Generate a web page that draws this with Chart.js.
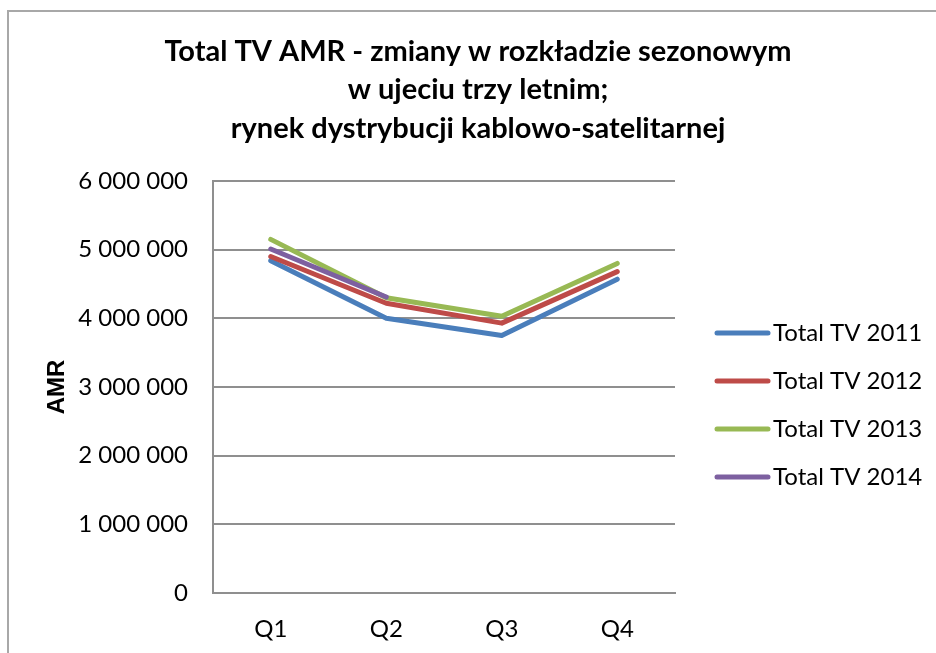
<!DOCTYPE html>
<html>
<head>
<meta charset="utf-8">
<script src="https://cdn.jsdelivr.net/npm/chart.js@4/dist/chart.umd.min.js"></script>
<style>
  html, body { margin: 0; padding: 0; background: #fff; }
  #wrap { width: 936px; height: 653px; }
</style>
</head>
<body>
<div id="wrap"><canvas id="chart" width="936" height="653"></canvas></div>
<script>
const quarters = ['Q1', 'Q2', 'Q3', 'Q4']
const seriesNames = ['Total TV 2011', 'Total TV 2012', 'Total TV 2013', 'Total TV 2014']
const tv2011 = [4840000, 4000000, 3750000, 4570000]
const tv2012 = [4900000, 4220000, 3930000, 4680000]
const tv2013 = [5150000, 4300000, 4030000, 4800000]
const tv2014 = [5010000, 4310000, null, null]
const titleLines = [
  'Total TV AMR - zmiany w rozkładzie sezonowym',
  'w ujeciu trzy letnim;',
  'rynek dystrybucji kablowo-satelitarnej'
]
const axisTitle = 'AMR'

const colors = ['#4A7EBB', '#BE4B48', '#98B954', '#7D60A0']
const fontFamily = 'Lato, "Open Sans", sans-serif'
const gridColor = '#8f8f8f'

const fmt = v => String(v).replace(/\B(?=(\d{3})+(?!\d))/g, ' ')

const frameAndText = {
  id: 'frameAndText',
  beforeDraw: (chart) => {
    const ctx = chart.ctx
    ctx.save()
    ctx.fillStyle = '#fff'
    ctx.fillRect(0, 0, chart.width, chart.height)
    ctx.strokeStyle = '#a8a8a8'
    ctx.lineWidth = 2
    ctx.beginPath()
    ctx.moveTo(8, chart.height)
    ctx.lineTo(8, 11)
    ctx.lineTo(chart.width, 11)
    ctx.stroke()
    ctx.restore()
  },
  afterDraw: (chart) => {
    const ctx = chart.ctx
    ctx.save()
    // title
    ctx.fillStyle = '#000'
    ctx.font = 'bold 29px ' + fontFamily
    ctx.textAlign = 'center'
    ctx.textBaseline = 'middle'
    const ys = [52, 90, 129]
    titleLines.forEach((t, i) => ctx.fillText(t, 478, ys[i]))

    // legend
    ctx.font = '24px ' + fontFamily
    ctx.textAlign = 'left'
    chart.data.datasets.forEach((ds, i) => {
      const y = 333 + i * 48
      ctx.strokeStyle = ds.borderColor
      ctx.lineWidth = 5
      ctx.lineCap = 'round'
      ctx.beginPath()
      ctx.moveTo(717, y)
      ctx.lineTo(768, y)
      ctx.stroke()
      ctx.fillStyle = '#000'
      ctx.fillText(ds.label, 773, y)
    })
    ctx.restore()
  }
}

const makeSet = (data, i) => ({
  label: seriesNames[i],
  data: data,
  borderColor: colors[i],
  backgroundColor: colors[i],
  borderWidth: 5,
  borderCapStyle: 'round',
  borderJoinStyle: 'round',
  pointRadius: 0,
  pointHoverRadius: 0,
  tension: 0,
  spanGaps: false,
  order: 3 - i
})

new Chart(document.getElementById('chart'), {
  type: 'line',
  data: {
    labels: quarters,
    datasets: [tv2011, tv2012, tv2013, tv2014].map(makeSet)
  },
  options: {
    responsive: false,
    animation: false,
    layout: {
      padding: { top: 181, right: 261, left: 0, bottom: 0 }
    },
    scales: {
      x: {
        offset: true,
        grid: { display: false, drawTicks: false },
        border: { display: true, color: gridColor, width: 2 },
        ticks: {
          color: '#000',
          font: { family: fontFamily, size: 24 },
          padding: 22
        },
        afterFit: (scale) => { scale.height = 60 }
      },
      y: {
        min: 0,
        max: 6000000,
        grid: { color: gridColor, lineWidth: 2, drawTicks: false },
        border: { display: true, color: gridColor, width: 2 },
        ticks: {
          stepSize: 1000000,
          color: '#000',
          font: { family: fontFamily, size: 24 },
          padding: 25,
          callback: v => fmt(v)
        },
        title: {
          display: true,
          text: axisTitle,
          color: '#000',
          font: { family: '"Liberation Sans", Arial, sans-serif', size: 24, weight: 'bold' },
          padding: { top: 43, bottom: 0 }
        },
        afterFit: (scale) => { scale.width = 213 }
      }
    },
    plugins: {
      legend: { display: false },
      title: { display: false },
      tooltip: { enabled: false }
    }
  },
  plugins: [frameAndText]
})
</script>
</body>
</html>
